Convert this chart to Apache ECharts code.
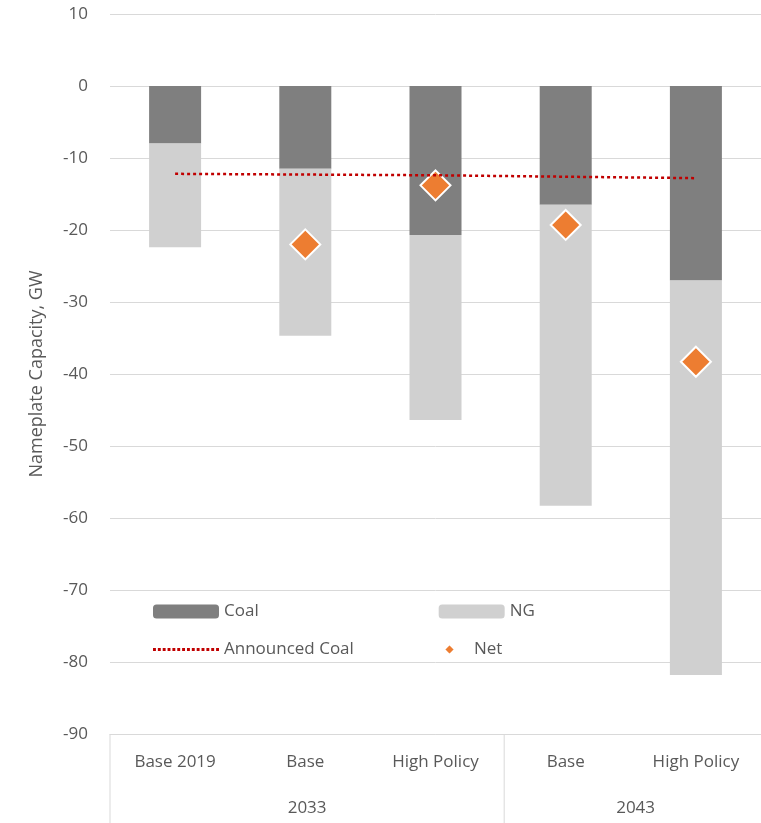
<!DOCTYPE html>
<html lang="en">
<head>
    <meta charset="UTF-8">
    <script src="https://cdn.jsdelivr.net/npm/echarts@6/dist/echarts.min.js"></script>
</head>
<style>
    html, body { margin: 0; width: 100%; height: 100%; background: #fff; }
</style>
<body>
<div id="main" style="width:761px;height:823px;"></div>
<script type="text/javascript">
    const categories = ['Base 2019', 'Base', 'High Policy', 'Base', 'High Policy'];
    const groups = [{name: '2033', from: 0, to: 3}, {name: '2043', from: 3, to: 5}];
    const coal = [-8, -11.5, -20.7, -16.5, -27];
    const ng = [-14.4, -23.2, -25.7, -41.8, -54.8];
    const announcedCoal = [-12.2, -12.3, -12.4, -12.6, -12.8];
    const net = ['-', -22, -13.8, -19.3, -38.3];

    const font = '"Open Sans", "Noto Sans", sans-serif';
    const txt = '#595959';
    let chart = echarts.init(document.getElementById('main'));

    const grid = {left: 110, right: -6, top: 14, bottom: 89};

    function groupGraphics() {
        const els = [];
        const w = (761 - grid.left - grid.right) / categories.length;
        const bounds = [0];
        groups.forEach(g => bounds.push(g.to));
        bounds.forEach(b => {
            const x = grid.left + b * w;
            els.push({type: 'line', shape: {x1: x, y1: 734, x2: x, y2: 823},
                style: {stroke: '#d9d9d9', lineWidth: 1}});
        });
        groups.forEach(g => {
            els.push({type: 'text', x: grid.left + (g.from + g.to) / 2 * w, y: 808,
                style: {text: g.name, font: '17px ' + font, fill: txt, align: 'center', verticalAlign: 'middle'}});
        });
        return els;
    }

    // dotted line legend icon
    let dots = '';
    for (let i = 0; i < 66; i += 5) dots += 'M' + i + ',6h3v3h-3z';

    const legendText = {color: txt, fontSize: 17, fontFamily: font};
    let option = {
        animation: false,
        grid: grid,
        legend: [
            {left: 148, top: 598, itemWidth: 66, itemHeight: 14, itemGap: 180,
                textStyle: legendText, data: ['Coal', 'NG']},
            {left: 148, top: 636, itemWidth: 66, itemHeight: 14,
                textStyle: legendText,
                data: [{name: 'Announced Coal', icon: 'path://' + dots}]},
            {left: 438, top: 636, itemWidth: 11, itemHeight: 11, itemGap: 10,
                textStyle: {color: txt, fontSize: 17, fontFamily: font, padding: [0, 0, 0, 14]},
                data: [{name: 'Net', icon: 'diamond'}]}
        ],
        xAxis: {
            type: 'category', data: categories, position: 'bottom',
            axisLine: {onZero: false, lineStyle: {color: '#d9d9d9'}},
            axisTick: {show: false},
            axisLabel: {color: txt, fontSize: 17, fontFamily: font, margin: 20}
        },
        yAxis: {
            type: 'value', min: -90, max: 10, interval: 10,
            name: 'Nameplate Capacity, GW', nameLocation: 'middle', nameGap: 64,
            nameTextStyle: {color: txt, fontSize: 18, fontFamily: font},
            axisLine: {show: false}, axisTick: {show: false},
            axisLabel: {color: txt, fontSize: 17, fontFamily: font, margin: 22},
            splitLine: {lineStyle: {color: '#d9d9d9'}}
        },
        series: [
            {name: 'Coal', type: 'bar', stack: 'a', data: coal, barWidth: 52,
                itemStyle: {color: '#7f7f7f'}},
            {name: 'NG', type: 'bar', stack: 'a', data: ng, barWidth: 52,
                itemStyle: {color: '#d0d0d0'}},
            {name: 'Announced Coal', type: 'line', data: announcedCoal, symbol: 'none',
                lineStyle: {color: '#c00000', width: 2.5, type: [3, 3]}, itemStyle: {color: '#c00000'}},
            {name: 'Net', type: 'scatter', data: net, symbol: 'diamond', symbolSize: 30,
                itemStyle: {color: '#ed7d31', opacity: 1, borderColor: '#fff', borderWidth: 2}}
        ],
        graphic: groupGraphics()
    };
    chart.setOption(option);
</script>
</body>
</html>
